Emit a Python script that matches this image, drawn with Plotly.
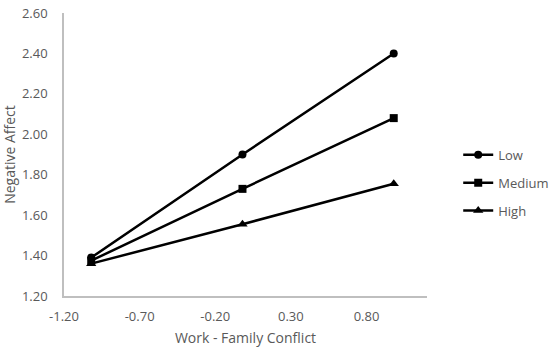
import plotly.graph_objects as go

x_vals = [-1.02, -0.02, 0.98]
low = [1.39, 1.90, 2.40]
medium = [1.375, 1.73, 2.08]
high = [1.36, 1.555, 1.755]
series_names = ["Low", "Medium", "High"]
symbols = ["circle", "square", "triangle-up"]
x_ticks = [-1.2, -0.7, -0.2, 0.3, 0.8]
y_ticks = [1.2, 1.4, 1.6, 1.8, 2.0, 2.2, 2.4, 2.6]

FONT = "Open Sans"
GRAY = "#595959"

fig = go.Figure()
for name, vals, sym in zip(series_names, [low, medium, high], symbols):
    fig.add_trace(go.Scatter(
        x=x_vals, y=vals, name=name, mode="lines+markers",
        legendgroup=name,
        line=dict(color="black", width=2.5),
        marker=dict(symbol=sym, size=8 if sym != "triangle-up" else 9, color="black"),
    ))

fig.update_layout(
    width=550, height=351,
    margin=dict(l=64, r=123, t=13, b=55, autoexpand=False),
    paper_bgcolor="white", plot_bgcolor="white",
    font=dict(family=FONT, size=13, color=GRAY),
    showlegend=True,
    legend=dict(x=1.086, y=0.552, xanchor="left", yanchor="top",
                tracegroupgap=8, font=dict(size=13, color=GRAY),
                bgcolor="rgba(0,0,0,0)"),
)
fig.update_xaxes(
    range=[-1.2, 1.2], tickvals=x_ticks, ticktext=[f"{v:.2f}" for v in x_ticks],
    showgrid=False, zeroline=False, showline=True, linecolor="#bfbfbf", linewidth=1.5,
    ticks="", ticklabelstandoff=8, automargin=False,
    title=dict(text="Work - Family Conflict", standoff=9, font=dict(size=14, color=GRAY)),
)
fig.update_yaxes(
    range=[1.2, 2.6], tickvals=y_ticks, ticktext=[f"{v:.2f}" for v in y_ticks],
    showgrid=False, zeroline=False, showline=True, linecolor="#bfbfbf", linewidth=1.5,
    ticks="", ticklabelstandoff=12, automargin=False,
    title=dict(text="Negative Affect", standoff=5, font=dict(size=14, color=GRAY)),
)
fig.write_html("out.html", config={"displayModeBar": False},
               post_script="document.body.style.margin='0';")
